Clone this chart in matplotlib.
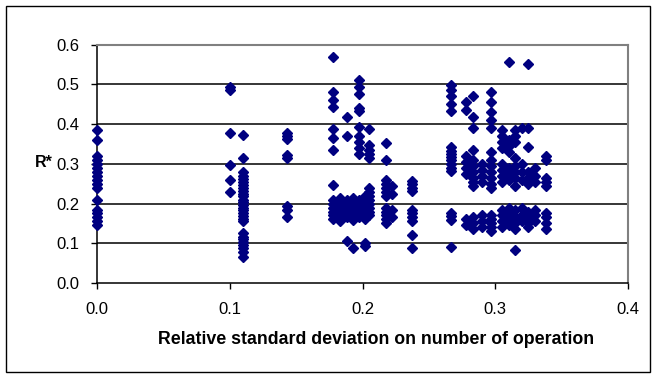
import matplotlib
matplotlib.use("Agg")
import matplotlib.pyplot as plt
from matplotlib.patches import Rectangle

# x position of each column of points (relative std dev on number of operation)
col_x = [0.0, 0.1, 0.11, 0.143, 0.178, 0.183, 0.188, 0.193, 0.197, 0.202, 0.205,
         0.218, 0.222, 0.237, 0.267, 0.278, 0.283, 0.29, 0.297, 0.305, 0.31,
         0.315, 0.32, 0.325, 0.33, 0.338]

# R* values of each column
col_y = [
    [0.385, 0.36, 0.32, 0.31, 0.30, 0.29, 0.28, 0.27, 0.26, 0.25, 0.24, 0.21,
     0.185, 0.175, 0.165, 0.155, 0.145],
    [0.493, 0.485, 0.377, 0.296, 0.259, 0.229],
    [0.372, 0.315, 0.28, 0.27, 0.262, 0.255, 0.247, 0.24, 0.232, 0.225, 0.218,
     0.21, 0.203, 0.196, 0.19, 0.183, 0.176, 0.169, 0.162, 0.155, 0.125, 0.117,
     0.11, 0.103, 0.096, 0.088, 0.078, 0.065],
    [0.377, 0.37, 0.362, 0.322, 0.315, 0.195, 0.185, 0.165],
    [0.57, 0.48, 0.462, 0.443, 0.387, 0.364, 0.336, 0.246, 0.21, 0.2, 0.19,
     0.18, 0.17, 0.16],
    [0.215, 0.2, 0.185, 0.17, 0.155],
    [0.21, 0.195, 0.18, 0.165, 0.417, 0.369, 0.107],
    [0.215, 0.2, 0.185, 0.17, 0.158, 0.088],
    [0.51, 0.493, 0.475, 0.44, 0.432, 0.392, 0.37, 0.354, 0.339, 0.324, 0.21,
     0.195, 0.18, 0.165],
    [0.22, 0.205, 0.19, 0.175, 0.16, 0.1, 0.093],
    [0.387, 0.347, 0.335, 0.325, 0.315, 0.24, 0.23, 0.22, 0.21, 0.2, 0.19,
     0.18, 0.17],
    [0.352, 0.309, 0.259, 0.25, 0.24, 0.23, 0.22, 0.19, 0.18, 0.17, 0.16, 0.15],
    [0.245, 0.225, 0.185, 0.165],
    [0.257, 0.25, 0.24, 0.232, 0.183, 0.175, 0.165, 0.155, 0.12, 0.088],
    [0.498, 0.485, 0.47, 0.45, 0.432, 0.342, 0.333, 0.325, 0.317, 0.31, 0.3,
     0.29, 0.282, 0.177, 0.168, 0.158, 0.09],
    [0.455, 0.435, 0.32, 0.305, 0.29, 0.275, 0.16, 0.145],
    [0.472, 0.417, 0.39, 0.335, 0.31, 0.295, 0.28, 0.265, 0.255, 0.243, 0.165,
     0.15, 0.135],
    [0.3, 0.285, 0.27, 0.255, 0.17, 0.155, 0.14],
    [0.48, 0.455, 0.43, 0.41, 0.39, 0.33, 0.31, 0.295, 0.28, 0.265, 0.25,
     0.24, 0.17, 0.16, 0.15, 0.14, 0.13],
    [0.385, 0.37, 0.355, 0.34, 0.3, 0.285, 0.27, 0.255, 0.185, 0.17, 0.155,
     0.14],
    [0.557, 0.36, 0.345, 0.33, 0.29, 0.275, 0.26, 0.19, 0.175, 0.16, 0.145],
    [0.385, 0.37, 0.355, 0.315, 0.295, 0.28, 0.265, 0.245, 0.185, 0.165, 0.15,
     0.135, 0.083],
    [0.39, 0.3, 0.28, 0.26, 0.19, 0.17, 0.155],
    [0.552, 0.39, 0.342, 0.28, 0.265, 0.25, 0.18, 0.165, 0.15, 0.14],
    [0.29, 0.27, 0.255, 0.185, 0.17, 0.155],
    [0.32, 0.31, 0.265, 0.255, 0.245, 0.175, 0.165, 0.15, 0.135],
]

x_ticks = [0.0, 0.1, 0.2, 0.3, 0.4]
x_tick_labels = ["0.0", "0.1", "0.2", "0.3", "0.4"]
y_ticks = [0.0, 0.1, 0.2, 0.3, 0.4, 0.5, 0.6]
y_tick_labels = ["0.0", "0.1", "0.2", "0.3", "0.4", "0.5", "0.6"]
x_label = "Relative standard deviation on number of operation"
y_label = "R*"

plt.rcParams['font.family'] = ['Liberation Sans', 'DejaVu Sans']

W, H = 657, 378
fig = plt.figure(figsize=(W / 100, H / 100), dpi=100)
ax = fig.add_axes([97 / W, 1 - 283 / H, (628 - 97) / W, (283 - 44.7) / H])

# outer chart frame
fig.patches.append(Rectangle((6 / W, 6 / H), (650 - 6) / W, (372 - 6) / H,
                             transform=fig.transFigure, fill=False,
                             edgecolor='black', linewidth=1.0, zorder=0))

for y in y_ticks[1:-1]:
    ax.axhline(y, color='black', linewidth=1.1, zorder=1)

xs, ys = [], []
for cx, cys in zip(col_x, col_y):
    for v in cys:
        xs.append(cx)
        ys.append(v)
ax.plot(xs, ys, linestyle='none', marker='D', markersize=5.4,
        color='#000080', markeredgecolor='#000080', zorder=3, clip_on=False)

ax.set_xlim(0, 0.4)
ax.set_ylim(0, 0.6)
ax.set_xticks(x_ticks)
ax.set_xticklabels(x_tick_labels)
ax.set_yticks(y_ticks)
ax.set_yticklabels(y_tick_labels)
ax.tick_params(axis='both', direction='out', length=4.5, width=1.0,
               labelsize=12, color='black')
ax.tick_params(axis='y', pad=8)
ax.tick_params(axis='x', pad=9)

ax.spines['left'].set_color('black')
ax.spines['bottom'].set_color('black')
ax.spines['left'].set_linewidth(1.1)
ax.spines['bottom'].set_linewidth(1.1)
ax.spines['top'].set_color('#808080')
ax.spines['right'].set_color('#808080')
ax.spines['top'].set_linewidth(1.5)
ax.spines['right'].set_linewidth(1.5)

fig.text(376 / W, 1 - 340 / H, x_label, ha='center', va='center',
         fontsize=12.8, fontweight='bold')
fig.text(35 / W, 1 - 163 / H, y_label, ha='left', va='center',
         fontsize=11.5, fontweight='bold')

fig.savefig("out.png", dpi=100)
